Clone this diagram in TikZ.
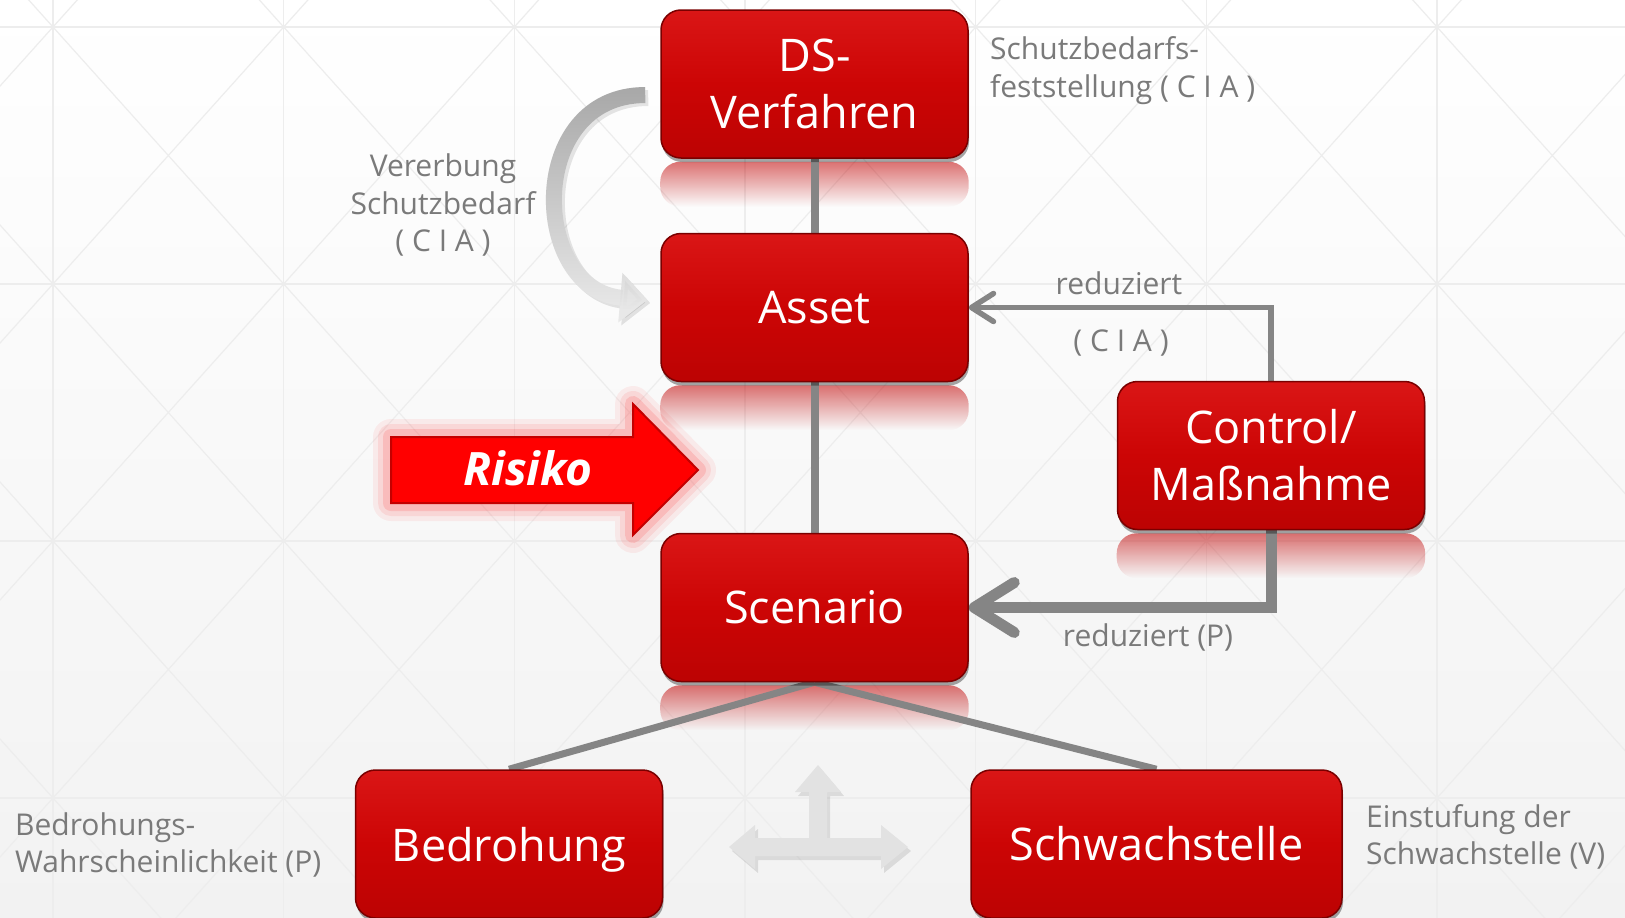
\documentclass[tikz,border=0pt]{standalone}
\usepackage{fontspec}
\setmainfont{Open Sans}
\usetikzlibrary{arrows.meta,shadows,fadings,calc}

\definecolor{boxred}{HTML}{CC0505}
\definecolor{boxtop}{HTML}{DA1616}
\definecolor{boxbot}{HTML}{BC0303}
\definecolor{boxedge}{HTML}{7A0000}
\definecolor{linegray}{HTML}{858585}
\definecolor{labelgray}{HTML}{7A7A7A}
\definecolor{gridgray}{HTML}{EDEDED}
\definecolor{bgbot}{HTML}{F2F2F2}
\definecolor{riskred}{HTML}{FF0000}
\definecolor{riskedge}{HTML}{C40000}
\definecolor{glowred}{HTML}{FF3030}
\definecolor{reflred}{HTML}{C00000}
\definecolor{curvelight}{HTML}{E8E8E8}
\definecolor{curvedark}{HTML}{A8A8A8}
\definecolor{tarrow}{HTML}{E2E2E2}

\tikzfading[name=reflfade, top color=transparent!45, bottom color=transparent!100]
\tikzfading[name=curvefade, top color=transparent!0, bottom color=transparent!100]

\pgfdeclarelayer{back}
\pgfdeclarelayer{mid}
\pgfsetlayers{back,mid,main}

\begin{document}
\begin{tikzpicture}[x=1pt,y=-1pt,
  redbox/.style={rectangle, rounded corners=20pt, minimum width=307pt, minimum height=148pt,
    inner sep=0pt, top color=boxtop, bottom color=boxbot, middle color=boxred,
    draw=boxedge, line width=1.5pt, text=white, font=\fontsize{45}{57}\selectfont, align=center,
    drop shadow={shadow xshift=1pt, shadow yshift=-4pt, opacity=.35, fill=black}},
  lbl/.style={text=labelgray, font=\fontsize{30}{37.5}\selectfont, inner sep=0pt},
  conn/.style={draw=linegray, line width=8pt},
  diagconn/.style={draw=linegray, line width=7pt},
  reflect/.style={fill=reflred, path fading=reflfade, rounded corners=20pt},
  gridline/.style={draw=gridgray, line width=1.2pt}
]
\useasboundingbox (0,0) rectangle (1625,918);

% ---------- nodes ----------
\node[redbox] (ds) at (814.5,84) {DS-\\Verfahren};
\node[redbox] (asset) at (814.5,307.5) {Asset};
\node[redbox] (ctrl) at (1271,455.5) {Control/\\Maßnahme};
\node[redbox] (scen) at (814.5,607.5) {Scenario};
\node[redbox, text depth=0pt] (bed) at (509,844) {Bedrohung};
\node[redbox, minimum width=371pt] (schw) at (1156.5,844) {Schwachstelle};

% ---------- background ----------
\begin{pgfonlayer}{back}
\fill[top color=white, bottom color=bgbot] (0,0) rectangle (1625,918);
\begin{scope}
\clip (0,0) rectangle (1625,918);
\foreach \i in {0,...,6} \draw[gridline] ({53+230.667*\i},0) -- ({53+230.667*\i},918);
\foreach \j in {0,...,3} \draw[gridline] (0,{27+257*\j}) -- (1625,{27+257*\j});
\foreach \i in {-1,...,7}{
  \foreach \j in {-1,...,3}{
    \draw[gridline] ({53+230.667*\i},{27+257*\j}) -- ({53+230.667*(\i+1)},{27+257*(\j+1)});
    \draw[gridline] ({53+230.667*\i},{27+257*(\j+1)}) -- ({53+230.667*(\i+1)},{27+257*\j});
  }
}
\end{scope}
\end{pgfonlayer}

% ---------- reflections, connectors ----------
\begin{pgfonlayer}{mid}
\fill[reflect] ([yshift=-3pt]ds.south west) rectangle ([yshift=-48pt]ds.south east);
\fill[reflect] ([yshift=-3pt]asset.south west) rectangle ([yshift=-48pt]asset.south east);
\fill[reflect] ([yshift=-3pt]ctrl.south west) rectangle ([yshift=-48pt]ctrl.south east);
\fill[reflect] ([yshift=-3pt]scen.south west) rectangle ([yshift=-48pt]scen.south east);

\draw[conn] (ds) -- (asset);
\draw[conn] (asset) -- (scen);
\draw[diagconn] (scen.south) -- (bed.north);
\draw[diagconn] (scen.south) -- (schw.north);
\draw[draw=linegray, line width=5.5pt, -{Straight Barb[round, length=22pt, width=28pt]}]
  (ctrl.north) |- (asset.east);
\draw[draw=linegray, line width=11pt, -{Straight Barb[round, length=40pt, width=50pt]}]
  (ctrl.south) |- (scen.east);

% curved inheritance arrow
\coordinate (cs) at ([xshift=-15pt,yshift=-11pt]ds.west);
\coordinate (ce) at ([xshift=-13pt,yshift=7.5pt]asset.west);
\draw[black, opacity=.10, line width=16pt, -{Triangle[length=27pt,width=48pt]}]
  ([shift={(3pt,-3pt)}]cs) .. controls (528,98) and (533,293) .. ([shift={(3pt,-3pt)}]ce);
\draw[curvelight, line width=16pt, -{Triangle[length=27pt,width=48pt]}]
  (cs) .. controls (525,95) and (530,290) .. (ce);
\draw[curvedark, path fading=curvefade, line width=16pt, -{Triangle[length=27pt,width=48pt]}]
  (cs) .. controls (525,95) and (530,290) .. (ce);
\end{pgfonlayer}

% ---------- Risiko arrow ----------
\foreach \w/\o in {36/0.07, 26/0.10, 16/0.16}{
  \draw[glowred, line width=\w pt, opacity=\o, line join=round]
    (391,437) -- (633,437) -- (633,404) -- (698,470) -- (633,535) -- (633,503) -- (391,503) -- cycle;
}
\draw[fill=riskred, draw=riskedge, line width=2pt]
  (391,437) -- (633,437) -- (633,404) -- (698,470) -- (633,535) -- (633,503) -- (391,503) -- cycle;
\node[text=white, inner sep=0pt, font=\fontsize{46}{50}\selectfont\bfseries\itshape] (risk) at (528,468) {Risiko};

% ---------- three-way light arrow ----------
\fill[black, opacity=.10, shift={(3pt,-4pt)}]
  (729,847) -- (755,825) -- (755,838) -- (809,838) -- (809,792) -- (795,792) -- (818,765)
  -- (841,792) -- (827,792) -- (827,838) -- (881,838) -- (881,825) -- (908,847)
  -- (881,869) -- (881,856) -- (755,856) -- (755,869) -- cycle;
\fill[tarrow]
  (729,847) -- (755,825) -- (755,838) -- (809,838) -- (809,792) -- (795,792) -- (818,765)
  -- (841,792) -- (827,792) -- (827,838) -- (881,838) -- (881,825) -- (908,847)
  -- (881,869) -- (881,856) -- (755,856) -- (755,869) -- cycle;

% ---------- labels ----------
\node[lbl, anchor=west, align=left] (l1) at (990,70.5) {Schutzbedarfs-\\feststellung ( C I A )};
\node[lbl, align=center] (l2) at (443,205) {Vererbung\\Schutzbedarf\\( C I A )};
\node[lbl] (l3) at (1119,283) {reduziert};
\node[lbl] (l4) at (1121,343) {( C I A )};
\node[lbl] (l5) at (1148,637) {reduziert (P)};
\node[lbl, anchor=west, align=left] (l6) at (15,845) {Bedrohungs-\\Wahrscheinlichkeit (P)};
\node[lbl, anchor=west, align=left] (l7) at (1366,837) {Einstufung der\\Schwachstelle (V)};
\end{tikzpicture}
\end{document}
